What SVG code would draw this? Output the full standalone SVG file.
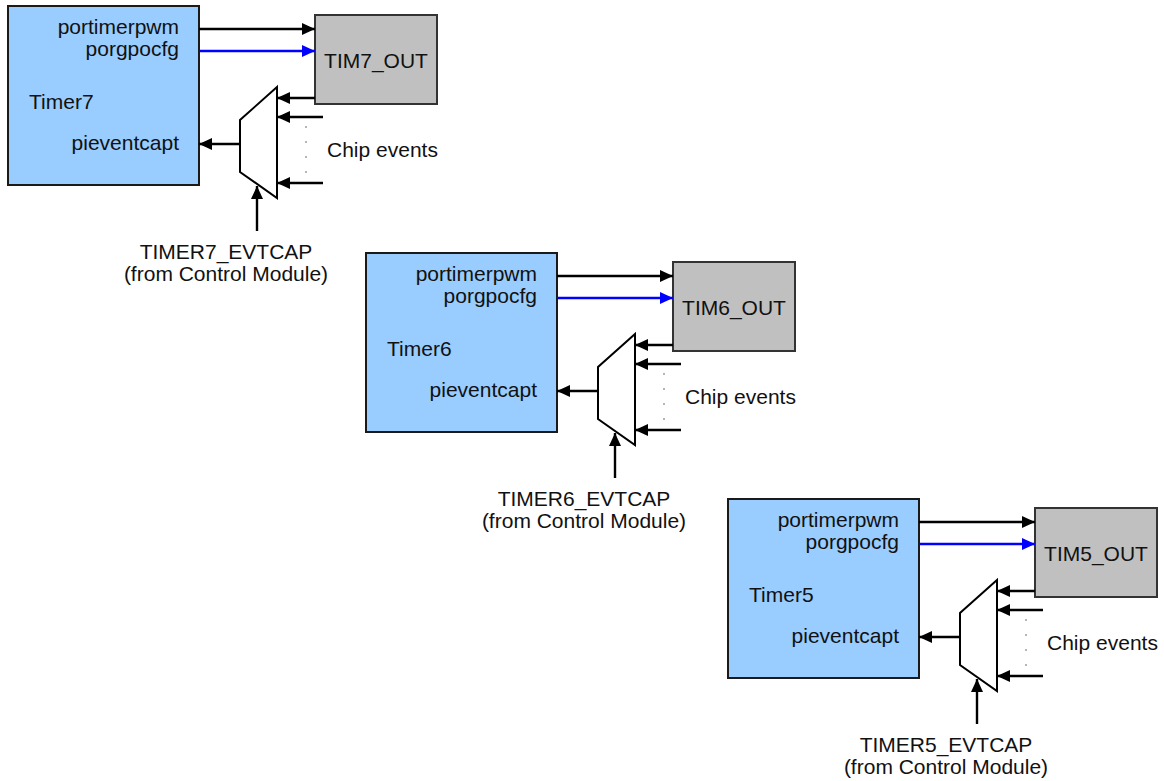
<svg xmlns="http://www.w3.org/2000/svg" width="1164" height="781" viewBox="0 0 1164 781">
<style>
text{font-family:"Liberation Sans",Arial,sans-serif;font-size:21px;fill:#111}
.timer{fill:#99ccff;stroke:#1a1a1a;stroke-width:2}
.out{fill:#c0c0c0;stroke:#333;stroke-width:2}
.mux{fill:#fff;stroke:#000;stroke-width:2}
.c{fill:none;stroke:#000;stroke-width:2.4;marker-end:url(#ah)}
.cb{fill:none;stroke:#0000ff;stroke-width:2.4;marker-end:url(#ahb)}
.dot{fill:#333}
.r{text-anchor:end}
.m{text-anchor:middle}
</style>
<defs>
<marker id="ah" markerUnits="userSpaceOnUse" markerWidth="13" markerHeight="12" refX="13" refY="6" orient="auto"><path d="M0,0 L13,6 L0,12 z" fill="#000"/></marker>
<marker id="ahb" markerUnits="userSpaceOnUse" markerWidth="13" markerHeight="12" refX="13" refY="6" orient="auto"><path d="M0,0 L13,6 L0,12 z" fill="#0000ff"/></marker>
<g id="block">
<g class="timerNode"><rect class="timer" x="8" y="6" width="191" height="179"/></g>
<g class="outNode"><rect class="out" x="315" y="15" width="122" height="89"/></g>
<g class="muxNode"><polygon class="mux" points="277,87 277,198 240,172 240,120"/></g>
<g class="connectors">
<path class="c" d="M199,29 H315"/>
<path class="cb" d="M199,51 H315"/>
<path class="c" d="M315,98 H277"/>
<path class="c" d="M323,117 H277"/>
<path class="c" d="M323,183 H277"/>
<path class="c" d="M240,144 H199"/>
<path class="c" d="M257,231 V186"/>
</g>
<g class="dots"><circle class="dot" cx="306" cy="127" r="0.7"/><circle class="dot" cx="306" cy="142" r="0.7"/><circle class="dot" cx="306" cy="157" r="0.7"/><circle class="dot" cx="306" cy="172" r="0.7"/></g>
</g>
</defs>
<g id="timer7-block">
<use href="#block"/>
<g id="timer7"><text class="r" x="179" y="34">portimerpwm</text><text class="r" x="179" y="56">porgpocfg</text><text x="29" y="109">Timer7</text><text class="r" x="179" y="150">pieventcapt</text></g>
<g id="tim7_out"><text class="m" x="376" y="68">TIM7_OUT</text></g>
<g id="chip7"><text x="327" y="157">Chip events</text></g>
<g id="evtcap7"><text class="m" x="226" y="259">TIMER7_EVTCAP</text><text class="m" x="226" y="281">(from Control Module)</text></g>
</g>
<g id="timer6-block" transform="translate(358,247)">
<use href="#block"/>
<g id="timer6"><text class="r" x="179" y="34">portimerpwm</text><text class="r" x="179" y="56">porgpocfg</text><text x="29" y="109">Timer6</text><text class="r" x="179" y="150">pieventcapt</text></g>
<g id="tim6_out"><text class="m" x="376" y="68">TIM6_OUT</text></g>
<g id="chip6"><text x="327" y="157">Chip events</text></g>
<g id="evtcap6"><text class="m" x="226" y="259">TIMER6_EVTCAP</text><text class="m" x="226" y="281">(from Control Module)</text></g>
</g>
<g id="timer5-block" transform="translate(720,493)">
<use href="#block"/>
<g id="timer5"><text class="r" x="179" y="34">portimerpwm</text><text class="r" x="179" y="56">porgpocfg</text><text x="29" y="109">Timer5</text><text class="r" x="179" y="150">pieventcapt</text></g>
<g id="tim5_out"><text class="m" x="376" y="68">TIM5_OUT</text></g>
<g id="chip5"><text x="327" y="157">Chip events</text></g>
<g id="evtcap5"><text class="m" x="226" y="259">TIMER5_EVTCAP</text><text class="m" x="226" y="281">(from Control Module)</text></g>
</g>
</svg>
